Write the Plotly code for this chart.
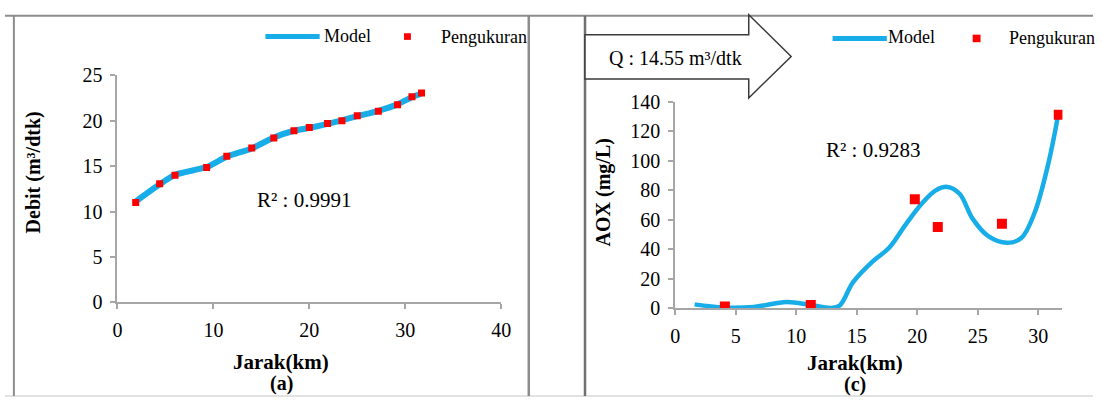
import plotly.graph_objects as go

# ---- Panel (a): discharge along the river ----
jarak_a = [1.9, 4.4, 6.0, 9.3, 11.4, 14.0, 16.3, 18.4, 20.0, 21.9, 23.4, 25.0, 27.2, 29.2, 30.7, 31.7]
debit_ukur = [11.0, 13.05, 14.0, 14.85, 16.1, 17.0, 18.1, 18.9, 19.25, 19.7, 20.0, 20.55, 21.05, 21.75, 22.65, 23.05]
debit_model = [11.1, 13.0, 14.05, 14.9, 16.05, 16.95, 18.15, 18.9, 19.2, 19.65, 20.05, 20.5, 21.1, 21.8, 22.6, 23.0]

# ---- Panel (c): AOX along the river ----
jarak_c = [4.1, 11.2, 19.8, 21.7, 27.0, 31.7]
aox_ukur = [1.3, 2.3, 73.9, 55.1, 57.2, 131.0]
jarak_model = [1.6, 4.0, 6.5, 9.2, 11.1, 12.9, 13.6, 14.7, 16.3, 17.7, 19.0, 20.4, 21.5, 22.5, 23.5, 24.6, 25.9, 27.4, 28.6, 29.7, 30.8, 31.6]
aox_model = [2.7, 0.6, 1.0, 4.3, 2.5, 0.3, 2.0, 17.7, 31.6, 41.2, 56.2, 71.1, 79.7, 82.2, 77.6, 60.4, 48.7, 44.4, 47.6, 64.7, 96.8, 128.8]

ticks_a_x = [0, 10, 20, 30, 40]
ticks_a_y = [0, 5, 10, 15, 20, 25]
ticks_c_x = [0, 5, 10, 15, 20, 25, 30]
ticks_c_y = [0, 20, 40, 60, 80, 100, 120, 140]

W, H = 1103, 408
FONT = "Liberation Serif, Times New Roman, serif"
BLUE = "#17ADE8"
RED = "#FF0000"
AXC = "#A6A6A6"


def px(x):
    return x / W


def py(y):
    return 1 - y / H


fig = go.Figure()

fig.add_trace(go.Scatter(x=jarak_a, y=debit_model, mode="lines", name="Model",
                         line=dict(color=BLUE, width=6, shape="spline", smoothing=0.6),
                         xaxis="x", yaxis="y", showlegend=False))
fig.add_trace(go.Scatter(x=jarak_a, y=debit_ukur, mode="markers", name="Pengukuran",
                         marker=dict(color=RED, symbol="square", size=7),
                         xaxis="x", yaxis="y", showlegend=False))
fig.add_trace(go.Scatter(x=jarak_model, y=aox_model, mode="lines", name="Model",
                         line=dict(color=BLUE, width=4.5, shape="spline", smoothing=1.0),
                         xaxis="x2", yaxis="y2", showlegend=False))
fig.add_trace(go.Scatter(x=jarak_c, y=aox_ukur, mode="markers", name="Pengukuran",
                         marker=dict(color=RED, symbol="square", size=10),
                         xaxis="x2", yaxis="y2", showlegend=False))


def axis(**kw):
    base = dict(showline=True, linecolor=AXC, linewidth=2, ticks="outside",
                ticklen=5, tickwidth=2, tickcolor=AXC, showgrid=False,
                zeroline=False, ticklabelstandoff=4,
                tickfont=dict(family=FONT, size=20, color="black"))
    base.update(kw)
    return base


fig.update_layout(
    width=W, height=H,
    margin=dict(l=0, r=0, t=0, b=0),
    paper_bgcolor="white", plot_bgcolor="white",
    font=dict(family=FONT, size=18, color="black"),
    showlegend=False,
    xaxis=axis(domain=[px(114), px(503)], range=[0, 40], tickvals=ticks_a_x, anchor="y"),
    yaxis=axis(domain=[py(308), py(68)], range=[0, 25], tickvals=ticks_a_y, anchor="x"),
    xaxis2=axis(domain=[px(679.5), px(1072)], range=[0, 32], tickvals=ticks_c_x, anchor="y2"),
    yaxis2=axis(domain=[py(314.3), py(95.7)], range=[0, 140], tickvals=ticks_c_y, anchor="x2"),
)

shapes = []
# panel frames
shapes.append(dict(type="line", xref="paper", yref="paper", x0=px(0), x1=px(W), y0=py(5), y1=py(5),
                   line=dict(color="#8C8C8C", width=2)))
shapes.append(dict(type="line", xref="paper", yref="paper", x0=px(0), x1=px(W), y0=py(407), y1=py(407),
                   line=dict(color="#D9D9D9", width=1.5)))
shapes.append(dict(type="line", xref="paper", yref="paper", x0=px(9), x1=px(9), y0=py(5), y1=py(407),
                   line=dict(color="#8C8C8C", width=2)))
shapes.append(dict(type="line", xref="paper", yref="paper", x0=px(531), x1=px(531), y0=py(5), y1=py(407),
                   line=dict(color="#8C8C8C", width=2.5)))
shapes.append(dict(type="line", xref="paper", yref="paper", x0=px(588), x1=px(588), y0=py(5), y1=py(407),
                   line=dict(color="#707070", width=2.5)))

# block arrow holding the discharge label
arrow_pts = [(588, 25), (754, 25), (754, 4), (797, 48), (754, 92), (754, 72), (588, 72)]
path = "M " + " L ".join(f"{px(x):.5f},{py(y):.5f}" for x, y in arrow_pts) + " Z"
shapes.append(dict(type="path", xref="paper", yref="paper", path=path,
                   fillcolor="white", line=dict(color="#3A3A3A", width=1.5)))

# legend keys
shapes.append(dict(type="line", xref="paper", yref="paper", x0=px(264), x1=px(319), y0=py(27), y1=py(27),
                   line=dict(color=BLUE, width=5)))
shapes.append(dict(type="rect", xref="paper", yref="paper", x0=px(404.5), x1=px(411.5), y0=py(30.5), y1=py(23.5),
                   fillcolor=RED, line=dict(width=0)))
shapes.append(dict(type="line", xref="paper", yref="paper", x0=px(839), x1=px(894), y0=py(29), y1=py(29),
                   line=dict(color=BLUE, width=5)))
shapes.append(dict(type="rect", xref="paper", yref="paper", x0=px(981), x1=px(989), y0=py(33), y1=py(25),
                   fillcolor=RED, line=dict(width=0)))

fig.update_layout(shapes=shapes)

ann = []


def text(x, y, s, size=18, bold=False, xanchor="left", angle=0):
    if bold:
        s = f"<b>{s}</b>"
    ann.append(dict(xref="paper", yref="paper", x=px(x), y=py(y), text=s, showarrow=False,
                    xanchor=xanchor, yanchor="middle", textangle=angle,
                    font=dict(family=FONT, size=size, color="black")))


# legends
text(321, 26, "Model", 18)
text(440, 27, "Pengukuran", 18)
text(893, 28, "Model", 18)
text(1016, 29, "Pengukuran", 18)

# discharge label in the arrow
text(680, 50, "Q : 14.55 m³/dtk", 20, xanchor="center")

# goodness of fit
text(253, 200, "R² : 0.9991", 21)
text(830, 147, "R² : 0.9283", 21)

# axis titles and panel tags
text(280, 371, "Jarak(km)", 21, bold=True, xanchor="center")
text(280, 394, "(a)", 20, bold=True, xanchor="center")
text(862, 372, "Jarak(km)", 21, bold=True, xanchor="center")
text(862, 395, "(c)", 20, bold=True, xanchor="center")
text(29, 171, "Debit (m³/dtk)", 20, bold=True, xanchor="center", angle=-90)
text(607, 192, "AOX (mg/L)", 20, bold=True, xanchor="center", angle=-90)

fig.update_layout(annotations=ann)

fig.write_html("out.html")
